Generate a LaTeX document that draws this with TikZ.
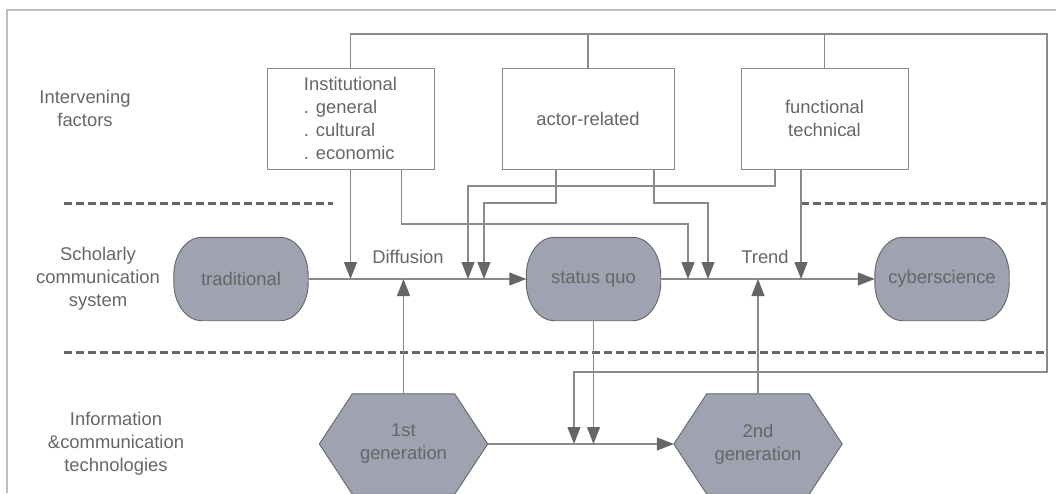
\documentclass[tikz,border=0pt]{standalone}
\usepackage{fontspec}
\setmainfont{Liberation Sans}
\usetikzlibrary{arrows.meta,calc,backgrounds}
\definecolor{linegray}{HTML}{8A8A8A}
\definecolor{darkgraytxt}{HTML}{666666}
\definecolor{nodefill}{HTML}{9EA2B1}
\definecolor{framegray}{HTML}{BDBDBD}
\begin{document}
\begin{tikzpicture}[x=1pt,y=-1pt,
  font=\fontsize{18.4}{23}\selectfont,
  txt/.style={text=darkgraytxt, align=center, inner sep=0pt},
  factorbox/.style={draw=linegray, line width=1pt, minimum height=101pt, text=darkgraytxt, align=center, inner sep=0pt},
  stadium/.style={minimum width=134pt, minimum height=83pt, text=darkgraytxt, inner sep=0pt},
  hexnode/.style={minimum width=168pt, minimum height=100pt, text=darkgraytxt, align=center, inner sep=0pt},
  shapefill/.style={draw=darkgraytxt, line width=0.9pt, fill=nodefill},
  conn/.style={draw=linegray, line width=1.1pt},
  arr/.style={conn, -{Triangle[length=17pt,width=13pt,color=darkgraytxt]}},
  sepline/.style={draw=darkgraytxt, line width=3pt, dash pattern=on 8pt off 4pt}
]
\useasboundingbox (0,0) rectangle (1056,493);
% frame
\draw[framegray, line width=2pt] (7,493) -- (7,10) -- (1056,10);

% separators
\draw[sepline] (64,203) -- (333,203);
\draw[sepline] (801,203) -- (1047,203);
\draw[sepline] (64,352) -- (1047,352);

% row labels
\node[txt] (lab1) at (85,108) {Intervening\\factors};
\node[txt] (lab2) at (98,279) {Scholarly\\communication\\system};
\node[txt] (lab3) at (116,444) {Information\\\&communication\\technologies};

% factor boxes
\node[factorbox, minimum width=167pt, align=left] (inst) at (350.5,118.5) {Institutional\\. general\\. cultural\\. economic};
\node[factorbox, minimum width=172pt] (actor) at (588,118.5) {actor-related};
\node[factorbox, minimum width=167pt] (func) at (824.5,118.5) {functional\\technical};

% system states
\node[stadium] (trad) at (241,279) {traditional};
\node[stadium] (sq) at (593.5,279) {status quo};
\node[stadium] (cyber) at (942,279) {cyberscience};

% technologies
\node[hexnode] (g1) at (403.5,444) {1st\\generation};
\node[hexnode] (g2) at (758,444) {2nd\\generation};

\begin{scope}[on background layer]
\foreach \n in {trad,sq,cyber}{
  \path[shapefill] ([xshift=28pt]\n.north west) -- ([xshift=-28pt]\n.north east)
    arc[start angle=90, end angle=0, x radius=28pt, y radius=38pt]
    -- ([yshift=38pt]\n.south east)
    arc[start angle=0, end angle=-90, x radius=28pt, y radius=38pt]
    -- ([xshift=28pt]\n.south west)
    arc[start angle=-90, end angle=-180, x radius=28pt, y radius=38pt]
    -- ([yshift=-38pt]\n.north west)
    arc[start angle=180, end angle=90, x radius=28pt, y radius=38pt] -- cycle;
}
\foreach \n in {g1,g2}{
  \path[shapefill] (\n.west) -- ([xshift=33pt]\n.north west) -- ([xshift=-33pt]\n.north east) -- (\n.east) -- ([xshift=-33pt]\n.south east) -- ([xshift=33pt]\n.south west) -- cycle;
}
\end{scope}

% labels on flow
\node[txt] (diff) at (408,257) {Diffusion};
\node[txt] (trend) at (765,257) {Trend};

% coordinates
\coordinate (topR) at (1047,34);
\coordinate (busB) at (1047,372);
\coordinate (busE) at (574,444);
\coordinate (c1) at (688,224);
\coordinate (c2) at (484,203);
\coordinate (c3) at (708,203);
\coordinate (c4) at (468,186);

% bus
\draw[arr] (inst.north) |- (topR) -- (busB) -| (busE);
\draw[conn] (actor.north) -- (actor.north |- topR);
\draw[conn] (func.north) -- (func.north |- topR);

% main flows
\draw[arr] (trad.east) -- (sq.west);
\draw[arr] (sq.east) -- (cyber.west);
\draw[arr] (g1.east) -- (g2.west);
\draw[arr] (g1.north) -- (g1.north |- trad.east);
\draw[arr] (g2.north) -- (g2.north |- trad.east);
\draw[arr] (sq.south) -- (sq.south |- g1.east);

% factor influences
\draw[arr] (inst.south) -- (inst.south |- trad.east);
\draw[arr] ([xshift=51pt]inst.south) |- (c1) -- (c1 |- trad.east);
\draw[arr] ([xshift=-32pt]actor.south) |- (c2) -- (c2 |- trad.east);
\draw[arr] ([xshift=66pt]actor.south) |- (c3) -- (c3 |- trad.east);
\draw[arr] ([xshift=-49.5pt]func.south) |- (c4) -- (c4 |- trad.east);
\draw[arr] ([xshift=-23.5pt]func.south) -- ([xshift=-23.5pt]func.south |- trad.east);
\end{tikzpicture}
\end{document}
